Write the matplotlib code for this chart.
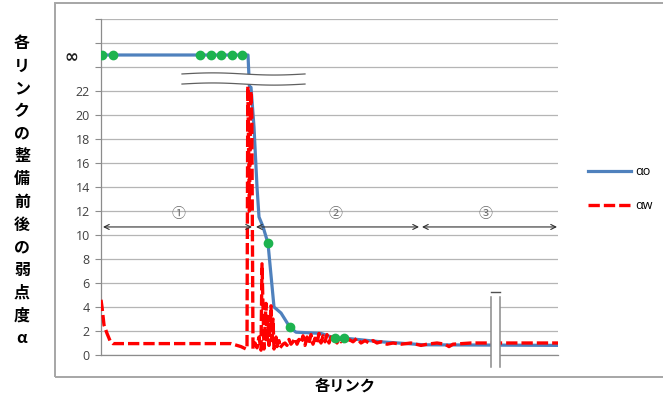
import numpy as np
import matplotlib
matplotlib.use("Agg")
import matplotlib.pyplot as plt
from matplotlib.patches import Rectangle, Polygon

# ---- data (x = link index, sorted by alpha_o) ----
INF = 25  # plotting level used for "infinity"
ao_x = [0, 73.5, 74.2, 75, 76.5, 78, 79, 81, 83.5, 86.5, 90, 94.5, 97.5, 110, 117, 122, 140, 161.5, 228.5]
ao_y = [INF, INF, 22.4, 22.3, 19, 14, 11.5, 10.7, 9.3, 4.0, 3.5, 2.3, 1.9, 1.8, 1.4, 1.4, 1.1, 0.85, 0.8]

ao_mark_x = [0.5, 6, 49.5, 55, 60, 65.5, 70.5, 83.5, 94.5, 117, 121.5]
ao_mark_y = [INF, INF, INF, INF, INF, INF, INF, 9.3, 2.3, 1.4, 1.4]

aw_x = [0, 0.5, 1.5, 3, 4.5, 6, 65, 70, 72.5, 73, 73.4, 74.2, 74.9, 75.4,
        76, 77, 78, 79, 80, 80.5, 81.5, 82.5, 83, 83.5, 84, 85, 85.5, 86, 86.5,
        87.5, 88, 89, 89.5, 91, 92, 93, 94, 95, 96, 97, 98, 99, 100, 101, 102,
        103, 104, 105, 106, 107, 108, 109, 110, 111, 112, 113, 114, 115, 116,
        117, 118, 119, 120, 121, 122, 124, 126, 128, 130, 132, 134, 136, 138,
        140, 143, 146, 150, 155, 160, 163, 168, 172, 174, 176, 185, 228.5]
aw_y = [4.6, 4.0, 2.5, 1.8, 1.2, 0.95, 0.95, 0.7, 0.5, 0.5, 22.4, 12.0, 22.0, 20.0,
        0.5, 1.0, 0.6, 1.5, 0.4, 7.6, 0.5, 4.3, 1.0, 3.2, 0.8, 4.1, 1.2, 3.0, 0.5,
        1.5, 0.7, 1.2, 0.6, 0.9, 1.0, 0.8, 1.3, 0.9, 1.1, 1.4, 0.9, 1.3, 1.0, 1.6, 0.8,
        1.5, 1.0, 1.7, 0.9, 1.4, 1.0, 1.8, 1.0, 1.6, 1.1, 1.7, 1.0, 1.5, 1.1,
        1.3, 1.0, 1.4, 1.1, 1.5, 1.0, 1.3, 1.1, 1.4, 1.0, 1.2, 1.0, 1.2, 1.0,
        1.1, 0.9, 1.0, 0.9, 1.0, 0.8, 0.9, 1.0, 0.9, 0.7, 0.9, 1.0, 1.0]

ytick_vals = list(range(0, 29, 2))
ytick_labels = [str(v) if v <= 22 else "" for v in ytick_vals]

regions = [("①", 1, 75.5, 38.5), ("②", 77.5, 159, 117), ("③", 160.5, 228, 192)]
series_labels = ["αo", "αw"]
ylabel_text = "各リンクの整備前後の弱点度α"
xlabel_text = "各リンク"

# ---- figure ----
W, H = 663, 401
fig = plt.figure(figsize=(W / 100, H / 100), dpi=100)
L, R, B, T = 101, 558, 355, 19
ax = fig.add_axes([L / W, (H - B) / H, (R - L) / W, (B - T) / H])
ax.set_xlim(0, 228.5)
ax.set_ylim(0, 28)

BLUE = "#4F81BD"
RED = "#FF0000"
GREEN = "#1DB34F"
GRID = "#b5b5b5"
TXT = "#404040"

# grid / ticks
ax.set_yticks(ytick_vals)
ax.set_yticklabels(ytick_labels, family=["Open Sans", "DejaVu Sans"], fontsize=9, color=TXT)
ax.set_yticks([INF], ["∞"], minor=True)
ax.tick_params(axis="y", which="major", length=4, width=0.8, color="#8c8c8c", pad=4)
ax.tick_params(axis="y", which="minor", length=0, pad=16, labelsize=12)
for lab in ax.get_yticklabels(minor=True):
    lab.set_fontweight("bold")
    lab.set_color("#202020")
    lab.set_family(["DejaVu Sans"])
ax.set_xticks([])
ax.grid(axis="y", which="major", color=GRID, lw=0.9)
ax.set_axisbelow(True)
for s in ["top", "right"]:
    ax.spines[s].set_visible(False)
for s in ["left", "bottom"]:
    ax.spines[s].set_color("#8c8c8c")
    ax.spines[s].set_linewidth(0.9)

# series
l1, = ax.plot(ao_x, ao_y, color=BLUE, lw=2.3, solid_joinstyle="round", zorder=3)
l2, = ax.plot(aw_x, aw_y, color=RED, lw=2.4, dashes=(3.4, 1.2), zorder=4)
ax.plot(ao_mark_x, ao_mark_y, ls="none", marker="o", ms=6, color=GREEN, mec=GREEN, zorder=5)

# region arrows
ya = 10.67
for lab, x0, x1, xc in regions:
    ax.annotate("", xy=(x0, ya), xytext=(x1, ya),
                arrowprops=dict(arrowstyle="<->", color="#303030", lw=0.8,
                                shrinkA=0, shrinkB=0, mutation_scale=9), zorder=6)
    ax.text(xc, 11.75, lab, ha="center", va="center", fontsize=10, color="#707070",
            family=["Noto Sans CJK JP", "DejaVu Sans"], zorder=6)

# horizontal break marks
t = np.linspace(0, 1, 60)
bx = 40.5 + t * (102 - 40.5)
wave = 0.09 * np.sin(2 * np.pi * t)
top = 23.42 + wave
bot = 22.58 + wave
ax.add_patch(Polygon(np.column_stack([np.r_[bx, bx[::-1]], np.r_[top, bot[::-1]]]),
                     closed=True, fc="white", ec="none", zorder=7, clip_on=False))
ax.plot(bx, top, color="#606060", lw=0.9, zorder=8, clip_on=False)
ax.plot(bx, bot, color="#606060", lw=0.9, zorder=8, clip_on=False)

# vertical break marks
vy0, vy1 = 4.83, -1.0
lx, rx = 195.2, 199.4
ax.add_patch(Polygon([[lx, vy0], [rx, vy0], [rx, vy1], [lx, vy1]],
                     closed=True, fc="white", ec="none", zorder=7, clip_on=False))
ax.plot([lx, lx], [vy0, vy1], color="#8a8a8a", lw=1.1, zorder=8, clip_on=False)
ax.plot([rx, rx], [vy0, vy1], color="#8a8a8a", lw=1.1, zorder=8, clip_on=False)
ax.plot([lx, rx], [5.25, 5.25], color="#505050", lw=1.0, zorder=8, clip_on=False)

# legend
fig.legend([l1, l2], series_labels, loc="upper left",
           bbox_to_anchor=(588 / W, 1 - 165 / H), bbox_transform=fig.transFigure,
           frameon=False, handlelength=3.4, handletextpad=0.4,
           labelspacing=1.7, borderpad=0, borderaxespad=0,
           prop={"family": ["Open Sans", "DejaVu Sans"], "size": 9})

# axis labels
cjk = ["Noto Sans CJK JP", "DejaVu Sans"]
n = len(ylabel_text)
for i, ch in enumerate(ylabel_text):
    yp = 43 + i * (338 - 43) / (n - 1)
    fig.text(22 / W, 1 - yp / H, ch, ha="center", va="center", fontsize=11.5,
             fontweight="bold", family=cjk, color="black")
fig.text(345 / W, 1 - 386 / H, xlabel_text, ha="center", va="center", fontsize=11,
         fontweight="bold", family=cjk, color="black")

# outer chart frame
fig.add_artist(Rectangle((55 / W, (H - 377) / H), 1.0, (377 - 3) / H,
                         transform=fig.transFigure, fill=False, ec="#a6a6a6", lw=1.4))

fig.savefig("out.png", dpi=100)
